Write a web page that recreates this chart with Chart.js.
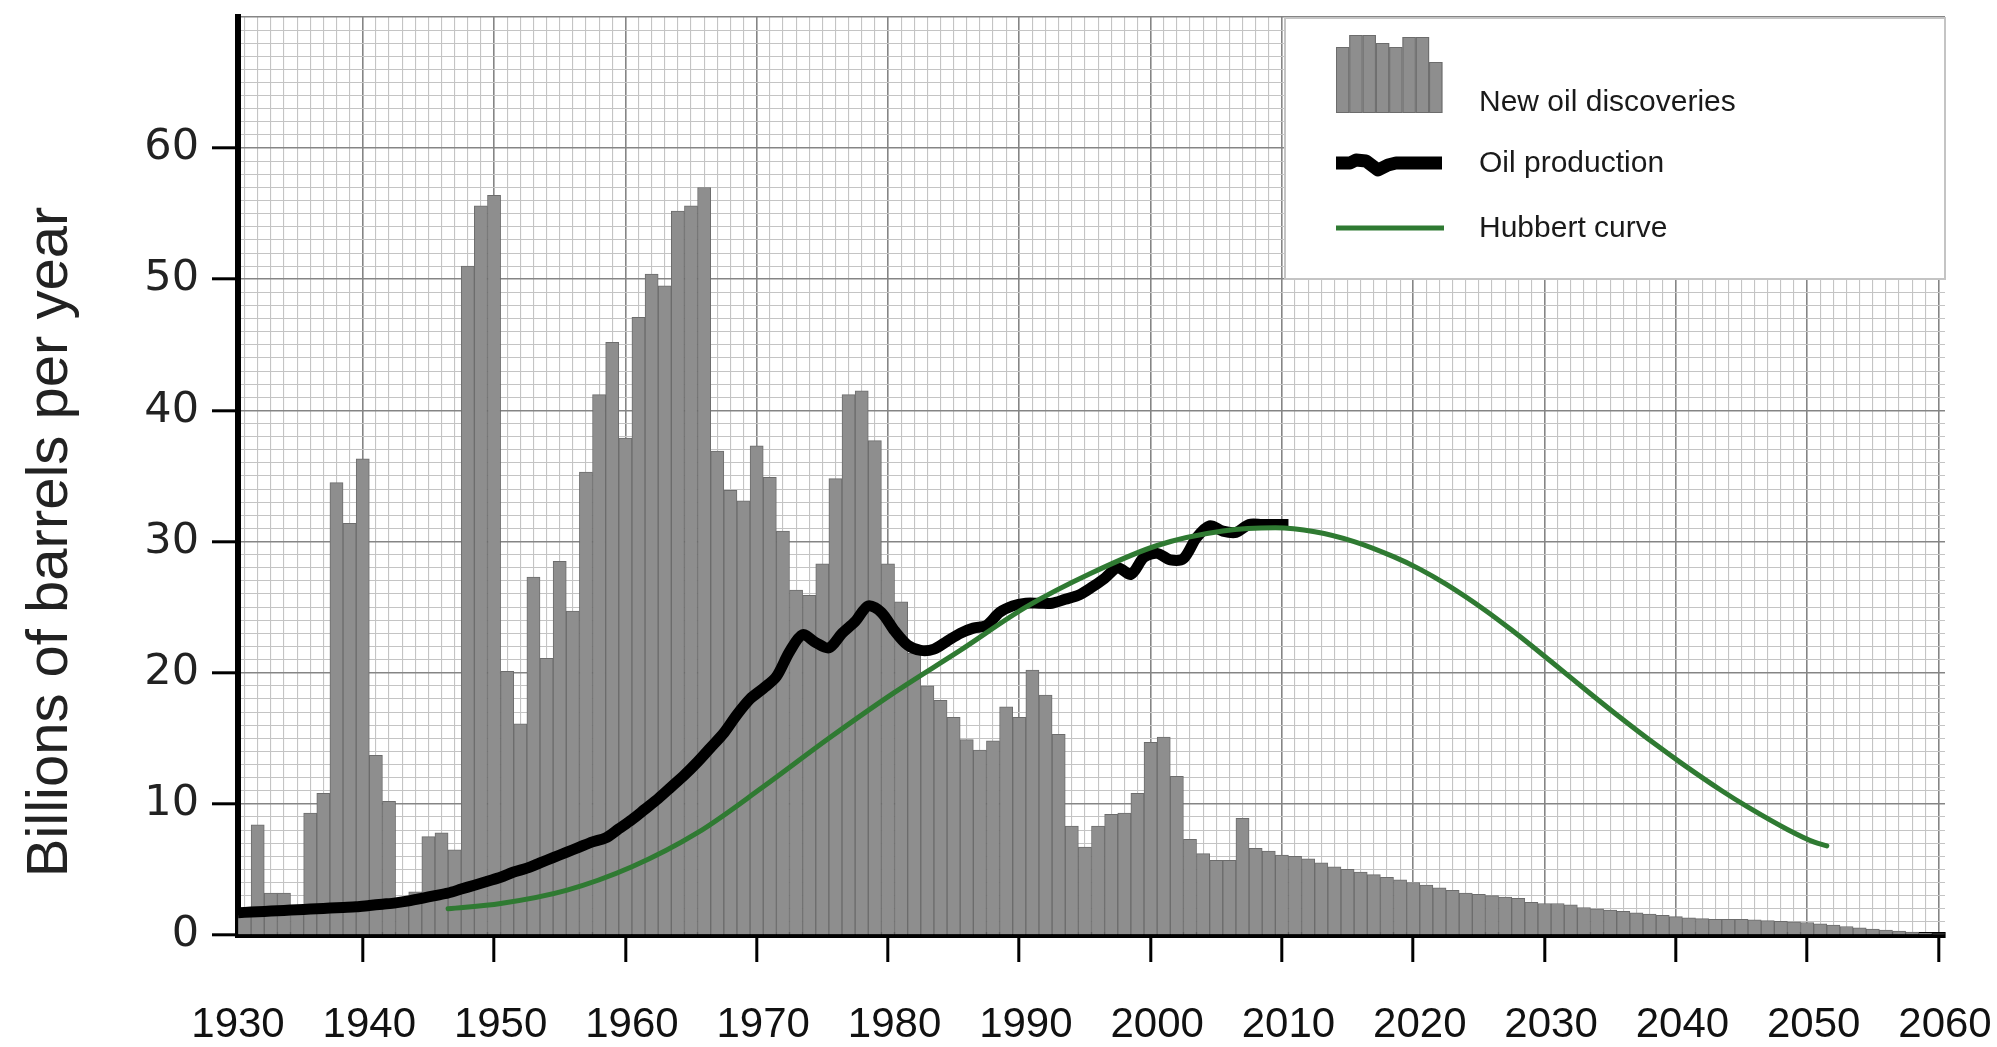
<!DOCTYPE html>
<html>
<head>
<meta charset="utf-8">
<script src="https://cdn.jsdelivr.net/npm/chart.js@4.4.1/dist/chart.umd.min.js"></script>
<style>
  html, body { margin: 0; padding: 0; background: #fff; }
  #wrap { width: 1997px; height: 1047px; }
</style>
</head>
<body>
<div id="wrap"><canvas id="c" width="1997" height="1047"></canvas></div>
<script>
// ---------- DATA ----------
const discoveryYears = [
  1930,1931,1932,1933,1934,1935,1936,1937,1938,1939,
  1940,1941,1942,1943,1944,1945,1946,1947,1948,1949,
  1950,1951,1952,1953,1954,1955,1956,1957,1958,1959,
  1960,1961,1962,1963,1964,1965,1966,1967,1968,1969,
  1970,1971,1972,1973,1974,1975,1976,1977,1978,1979,
  1980,1981,1982,1983,1984,1985,1986,1987,1988,1989,
  1990,1991,1992,1993,1994,1995,1996,1997,1998,1999,
  2000,2001,2002,2003,2004,2005,2006,2007,2008,2009,
  2010,2011,2012,2013,2014,2015,2016,2017,2018,2019,
  2020,2021,2022,2023,2024,2025,2026,2027,2028,2029,
  2030,2031,2032,2033,2034,2035,2036,2037,2038,2039,
  2040,2041,2042,2043,2044,2045,2046,2047,2048,2049,
  2050,2051,2052,2053,2054,2055,2056,2057,2058,2059
];
const newDiscoveries = [
  1.5, 8.4, 3.2, 3.2, 1.8, 9.3,10.8,34.5,31.4,36.3,
  13.7,10.2, 2.3, 3.3, 7.5, 7.8, 6.5,51.0,55.6,56.4,
  20.1,16.1,27.3,21.1,28.5,24.7,35.3,41.2,45.2,37.9,
  47.1,50.4,49.5,55.2,55.6,57.0,36.9,33.9,33.1,37.3,
  34.9,30.8,26.3,25.9,28.3,34.8,41.2,41.5,37.7,28.3,
  25.4,21.5,19.0,17.9,16.6,14.9,14.1,14.8,17.4,16.6,
  20.2,18.3,15.3, 8.3, 6.7, 8.3, 9.2, 9.3,10.8,14.7,
  15.1,12.1, 7.3, 6.2, 5.7, 5.7, 8.9, 6.6, 6.4, 6.1,
  6.0, 5.8, 5.5, 5.2, 5.0, 4.8, 4.6, 4.4, 4.2, 4.0,
  3.8, 3.6, 3.4, 3.2, 3.1, 3.0, 2.9, 2.8, 2.5, 2.4,
  2.4, 2.3, 2.1, 2.0, 1.9, 1.8, 1.7, 1.6, 1.5, 1.4,
  1.3, 1.25,1.2, 1.2, 1.2, 1.15,1.1, 1.05,1.0, 0.95,
  0.85,0.75,0.65,0.55,0.45,0.38,0.3, 0.22,0.15,0.08
];
const productionYears = [
  1930,1931,1932,1933,1934,1935,1936,1937,1938,1939,
  1940,1941,1942,1943,1944,1945,1946,1947,1948,1949,
  1950,1951,1952,1953,1954,1955,1956,1957,1958,1959,
  1960,1961,1962,1963,1964,1965,1966,1967,1968,1969,
  1970,1971,1972,1973,1974,1975,1976,1977,1978,1979,
  1980,1981,1982,1983,1984,1985,1986,1987,1988,1989,
  1990,1991,1992,1993,1994,1995,1996,1997,1998,1999,
  2000,2001,2002,2003,2004,2005,2006,2007,2008,2009,
  2010
];
const oilProduction = [
  1.7, 1.75,1.8, 1.85,1.9, 1.95,2.0, 2.05,2.1, 2.15,
  2.25,2.35,2.45,2.6, 2.8, 3.0, 3.2, 3.5, 3.8, 4.1,
  4.4, 4.8, 5.1, 5.5, 5.9, 6.3, 6.7, 7.1, 7.4, 8.1,
  8.8, 9.6,10.4,11.3,12.2,13.2,14.3,15.4,16.8,18.0,
  18.8,19.7,21.6,22.9,22.3,21.9,23.0,23.9,25.1,24.6,
  23.2,22.1,21.7,21.8,22.4,23.0,23.4,23.6,24.6,25.1,
  25.3,25.3,25.3,25.6,25.9,26.5,27.2,28.0,27.5,28.8,
  29.1,28.6,28.7,30.3,31.2,30.8,30.7,31.3,31.3,31.3,
  31.3
];
const hubbertYears = [1946,1950,1955,1960,1965,1970,1975,1980,1985,1990,1995,2000,2005,2009,2012,2015,2018,2020,2022,2025,2027,2030,2033,2035,2038,2040,2043,2045,2048,2050,2051];
const hubbertCurve = [2.0, 2.4, 3.4, 5.2, 7.8,11.3,15.0,18.5,21.7,25.0,27.6,29.7,30.8,31.05,30.75,30.0,28.85,27.9,26.75,24.75,23.25,20.85,18.4,16.8,14.5,13.05,11.0, 9.75, 8.05, 7.1, 6.8];

const xTickLabels = [1930,1940,1950,1960,1970,1980,1990,2000,2010,2020,2030,2040,2050,2060];
const yTickLabels = [0,10,20,30,40,50,60];
const seriesNames = ['New oil discoveries', 'Oil production', 'Hubbert curve'];
const yTitle = 'Billions of barrels per year';

// ---------- STYLE ----------
const BAR_FILL = '#8e8e8e', BAR_EDGE = '#6c6c6c';
const GREEN = '#2f7a32';
const MAJOR = '#858585', MINOR = '#c4c4c4';

const isMajorX = v => xTickLabels.includes(v);
const isMajorY = v => v % 10 === 0;

// legend + y title plugin
const decorPlugin = {
  id: 'decor',
  afterDraw(chart) {
    const { ctx, chartArea: a } = chart;
    ctx.save();
    // y-axis title
    ctx.save();
    ctx.translate(a.left - 171, a.bottom - 393);
    ctx.rotate(-Math.PI / 2);
    ctx.font = '58px "Liberation Sans", Arial, sans-serif';
    ctx.fillStyle = '#222';
    ctx.textAlign = 'center';
    ctx.textBaseline = 'alphabetic';
    ctx.fillText(yTitle, 0, 0);
    ctx.restore();

    // legend box
    const W = 660, H = 261;
    const L = a.right - W, T = a.top + 1;
    ctx.fillStyle = '#fff';
    ctx.fillRect(L, T, W, H);
    ctx.strokeStyle = '#c4c4c4';
    ctx.lineWidth = 2;
    ctx.strokeRect(L, T, W, H);

    const ix = L + 51;
    // bar icon
    const iconH = [66, 78, 78, 70, 66, 76, 76, 51];
    const bw = 13.3, base = T + 95;
    iconH.forEach((h, i) => {
      ctx.fillStyle = BAR_FILL;
      ctx.fillRect(ix + i * bw, base - h, bw, h);
      ctx.strokeStyle = BAR_EDGE;
      ctx.lineWidth = 1;
      ctx.strokeRect(ix + i * bw + 0.5, base - h + 0.5, bw - 1, h - 1);
    });
    // production icon
    const py = T + 145;
    ctx.beginPath();
    ctx.strokeStyle = '#000';
    ctx.lineWidth = 13;
    ctx.lineJoin = 'round';
    const pth = [[0,0],[14,0],[20,-3],[30,-2],[42,7],[52,2],[60,0],[106,0]];
    pth.forEach(([dx, dy], i) => i ? ctx.lineTo(ix + dx, py + dy) : ctx.moveTo(ix + dx, py + dy));
    ctx.stroke();
    // hubbert icon
    ctx.beginPath();
    ctx.strokeStyle = GREEN;
    ctx.lineWidth = 5;
    ctx.moveTo(ix, T + 210);
    ctx.lineTo(ix + 108, T + 210);
    ctx.stroke();

    ctx.fillStyle = '#1a1a1a';
    ctx.font = '30px "Liberation Sans", Arial, sans-serif';
    ctx.textAlign = 'left';
    ctx.textBaseline = 'alphabetic';
    ctx.fillText(seriesNames[0], L + 194, T + 93);
    ctx.fillText(seriesNames[1], L + 194, T + 154);
    ctx.fillText(seriesNames[2], L + 194, T + 219);
    ctx.restore();
  }
};

Chart.defaults.font.family = '"Liberation Sans", Arial, sans-serif';
Chart.defaults.animation = false;

new Chart(document.getElementById('c'), {
  type: 'bar',
  data: {
    datasets: [
      {
        type: 'line',
        label: seriesNames[2],
        data: hubbertYears.map((y, i) => ({ x: y, y: hubbertCurve[i] })),
        borderColor: GREEN,
        borderWidth: 5,
        pointRadius: 0,
        cubicInterpolationMode: 'monotone',
        borderCapStyle: 'round',
        fill: false,
        order: 1
      },
      {
        type: 'line',
        label: seriesNames[1],
        data: productionYears.map((y, i) => ({ x: y, y: oilProduction[i] })),
        borderColor: '#000',
        borderWidth: 11,
        pointRadius: 0,
        tension: 0.3,
        borderJoinStyle: 'round',
        borderCapStyle: 'butt',
        fill: false,
        order: 2
      },
      {
        type: 'bar',
        label: seriesNames[0],
        data: discoveryYears.map((y, i) => ({ x: y + 0.5, y: newDiscoveries[i] })),
        backgroundColor: BAR_FILL,
        borderColor: BAR_EDGE,
        borderWidth: 1,
        borderSkipped: 'bottom',
        barPercentage: 1.0,
        categoryPercentage: 1.0,
        order: 3
      }
    ]
  },
  options: {
    responsive: false,
    maintainAspectRatio: false,
    animation: false,
    layout: { padding: { top: 17, right: 52, left: 0, bottom: 0 } },
    plugins: {
      legend: { display: false },
      tooltip: { enabled: false },
      title: { display: false }
    },
    scales: {
      x: {
        type: 'linear',
        min: 1930,
        max: 2060,
        offset: false,
        afterFit: s => { s.height = 112; s.paddingLeft = 0; s.paddingRight = 0; },
        ticks: {
          stepSize: 1,
          autoSkip: false,
          maxRotation: 0,
          minRotation: 0,
          padding: 38,
          color: '#111',
          font: { size: 42 },
          callback: v => isMajorX(v) ? String(v) : ''
        },
        grid: {
          color: c => (c.tick && isMajorX(c.tick.value)) ? MAJOR : MINOR,
          lineWidth: c => (c.tick && isMajorX(c.tick.value)) ? 1.6 : 1.1,
          tickColor: c => (c.tick && isMajorX(c.tick.value)) ? '#000' : 'rgba(0,0,0,0)',
          tickWidth: 3,
          tickLength: 27,
          drawTicks: true
        },
        border: { display: true, color: '#000', width: 6 }
      },
      y: {
        type: 'linear',
        min: 0,
        max: 70,
        afterFit: s => { s.width = 238; s.paddingTop = 0; s.paddingBottom = 0; },
        ticks: {
          stepSize: 1,
          autoSkip: false,
          padding: 13,
          color: '#222',
          font: { family: '"DejaVu Sans", sans-serif', size: 43 },
          callback: v => (isMajorY(v) && yTickLabels.includes(v)) ? String(v) : ''
        },
        grid: {
          color: c => (c.tick && isMajorY(c.tick.value)) ? MAJOR : MINOR,
          lineWidth: c => (c.tick && isMajorY(c.tick.value)) ? 1.6 : 1.1,
          tickColor: c => (c.tick && yTickLabels.includes(c.tick.value)) ? '#000' : 'rgba(0,0,0,0)',
          tickWidth: 3,
          tickLength: 26,
          drawTicks: true
        },
        border: { display: true, color: '#000', width: 6 }
      }
    }
  },
  plugins: [decorPlugin]
});
</script>
</body>
</html>
